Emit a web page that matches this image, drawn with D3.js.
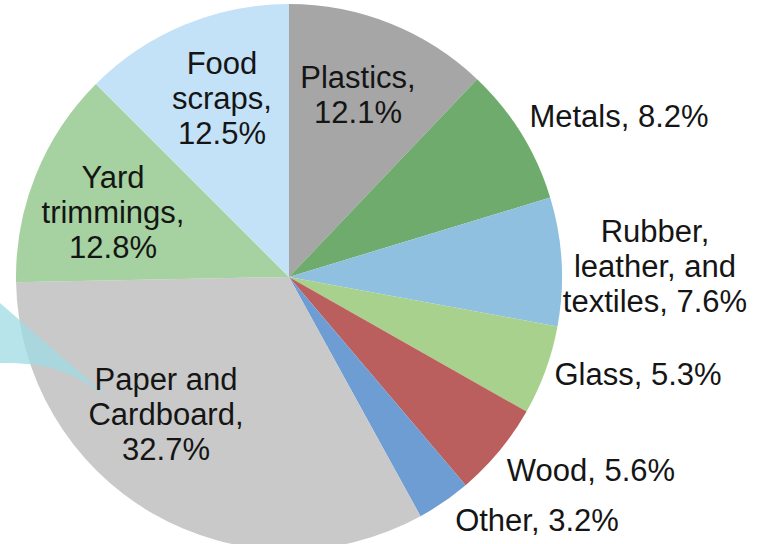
<!DOCTYPE html>
<html><head><meta charset="utf-8">
<script src="https://cdn.jsdelivr.net/npm/d3@7"></script>
<style>html,body{margin:0;padding:0;background:#fff;overflow:hidden}</style>
</head><body>
<svg id="chart" width="763" height="544"></svg>
<script>
const categories = ["Plastics","Metals","Rubber, leather, and textiles","Glass","Wood","Other","Paper and Cardboard","Yard trimmings","Food scraps"];
const values = [12.1, 8.2, 7.6, 5.3, 5.6, 3.2, 32.7, 12.8, 12.5];
const labelLines = [
  ["Plastics,","12.1%"],
  ["Metals, 8.2%"],
  ["Rubber,","leather, and","textiles, 7.6%"],
  ["Glass, 5.3%"],
  ["Wood, 5.6%"],
  ["Other, 3.2%"],
  ["Paper and","Cardboard,","32.7%"],
  ["Yard","trimmings,","12.8%"],
  ["Food","scraps,","12.5%"]
];
const colors = ["#a6a6a6","#6eab6c","#90c0e0","#a9d18e","#ba5f5e","#6e9dd3","#c9c9c9","#a6d1a0","#c4e2f7"];
// label anchor (first-line baseline) positions, layout only
const labelPos = [[358,88],[619,127],[655,242],[638,385],[591,481],[537,531],[166,390],[113,188],[222,74]];

const svg = d3.select("#chart");
const cx = 289, cy = 277, R = 273;
const pie = d3.pie().sort(null).value(d => d)(values);
const arc = d3.arc().innerRadius(0).outerRadius(R);
const g = svg.append("g").attr("transform", `translate(${cx},${cy})`);
g.selectAll("path").data(pie).join("path")
  .attr("d", arc)
  .attr("fill", (d,i) => colors[i]);

// callout wedge
svg.append("path")
  .attr("d", "M0,303 L108,397 L100,392 C70,370 40,362 0,363 Z")
  .attr("fill", "#9fdbe3").attr("opacity", 0.75);

const fs = 31, lh = 35;
labelLines.forEach((lines, i) => {
  const t = svg.append("text")
    .attr("x", labelPos[i][0]).attr("y", labelPos[i][1])
    .attr("text-anchor", "middle")
    .attr("font-family", "Liberation Sans, Arial, sans-serif")
    .attr("font-size", fs).attr("fill", "#151515");
  lines.forEach((l, j) => {
    t.append("tspan").attr("x", labelPos[i][0]).attr("dy", j ? lh : 0).text(l);
  });
});
</script>
</body></html>
